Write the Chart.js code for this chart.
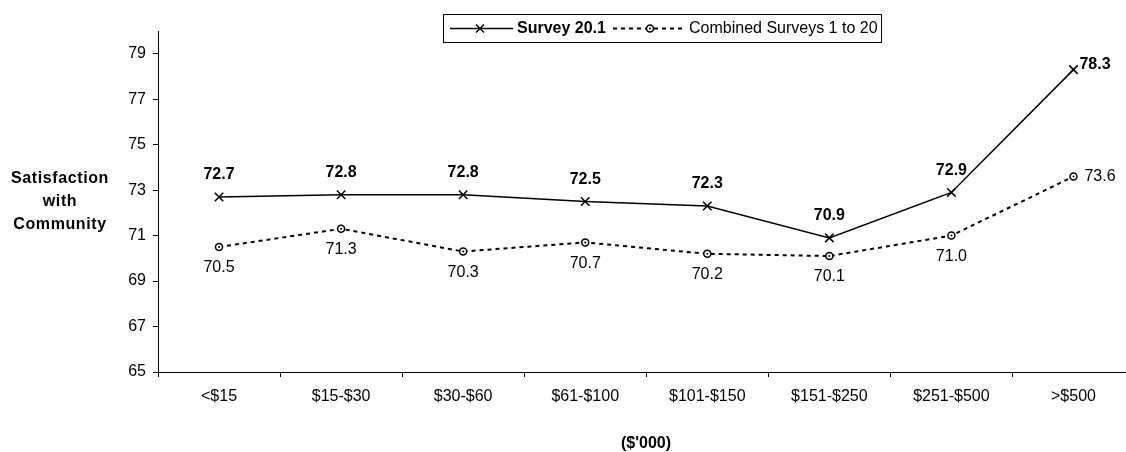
<!DOCTYPE html>
<html>
<head>
<meta charset="utf-8">
<script src="https://cdn.jsdelivr.net/npm/chart.js@4.4.0/dist/chart.umd.min.js"></script>
<style>
  html, body { margin: 0; padding: 0; background: #fff; overflow: hidden; width: 1126px; height: 452px; }
  #wrap { width: 1126px; height: 452px; overflow: hidden; position: relative; }
  #c { position: absolute; left: 0; top: 0; }
</style>
</head>
<body>
<div id="wrap"><canvas id="c" width="1142" height="452"></canvas></div>
<script>
const categories = ['<$15', '$15-$30', '$30-$60', '$61-$100', '$101-$150', '$151-$250', '$251-$500', '>$500'];
const survey201 = [72.7, 72.8, 72.8, 72.5, 72.3, 70.9, 72.9, 78.3];
const combined1to20 = [70.5, 71.3, 70.3, 70.7, 70.2, 70.1, 71.0, 73.6];
const yTicks = [65, 67, 69, 71, 73, 75, 77, 79];
const seriesNames = ['Survey 20.1', 'Combined Surveys 1 to 20'];
const yTitle = ['Satisfaction', 'with', 'Community'];
const xTitle = "($'000)";

const FONT = '"Liberation Sans", Arial, sans-serif';

const overlay = {
  id: 'overlay',
  afterDatasetsDraw(chart) {
    const ctx = chart.ctx;
    ctx.save();
    const m2 = chart.getDatasetMeta(1);
    ctx.fillStyle = '#000';
    m2.data.forEach(p => { ctx.beginPath(); ctx.arc(p.x, p.y, 1, 0, Math.PI * 2); ctx.fill(); });

    const m1 = chart.getDatasetMeta(0);
    const last = m1.data.length - 1;
    ctx.fillStyle = '#000';
    ctx.textBaseline = 'middle';
    ctx.font = 'bold 16px ' + FONT;
    m1.data.forEach((p, i) => {
      const txt = survey201[i].toFixed(1);
      if (i === last) { ctx.textAlign = 'left'; ctx.fillText(txt, p.x + 6, p.y - 5); }
      else { ctx.textAlign = 'center'; ctx.fillText(txt, p.x, p.y - 22); }
    });
    ctx.font = '16px ' + FONT;
    m2.data.forEach((p, i) => {
      const txt = combined1to20[i].toFixed(1);
      if (i === last) { ctx.textAlign = 'left'; ctx.fillText(txt, p.x + 11, p.y); }
      else { ctx.textAlign = 'center'; ctx.fillText(txt, p.x, p.y + 21); }
    });
    ctx.restore();
  },
  afterDraw(chart) {
    const ctx = chart.ctx;
    ctx.save();
    ctx.fillStyle = '#000';
    ctx.strokeStyle = '#000';
    ctx.font = 'bold 16px ' + FONT;
    ctx.textAlign = 'center';
    ctx.textBaseline = 'middle';
    try { ctx.letterSpacing = '0.6px'; } catch (e) {}
    yTitle.forEach((t, i) => ctx.fillText(t, 60, 179 + i * 23));
    try { ctx.letterSpacing = '0px'; } catch (e) {}
    ctx.fillText(xTitle, 646, 444);

    const bx = 443, by = 14, bw = 438, bh = 28;
    ctx.lineWidth = 1;
    ctx.strokeRect(bx + 0.5, by + 0.5, bw, bh);
    const cy = by + bh / 2 + 0.5;
    ctx.lineWidth = 1.5;
    ctx.setLineDash([]);
    ctx.beginPath(); ctx.moveTo(450, cy); ctx.lineTo(513, cy); ctx.stroke();
    ctx.beginPath();
    ctx.moveTo(476, cy - 4); ctx.lineTo(484, cy + 4);
    ctx.moveTo(476, cy + 4); ctx.lineTo(484, cy - 4);
    ctx.stroke();
    ctx.textAlign = 'left';
    ctx.font = 'bold 16px ' + FONT;
    ctx.fillText(seriesNames[0], 517, cy);
    ctx.lineWidth = 2;
    ctx.setLineDash([4, 4]);
    ctx.beginPath(); ctx.moveTo(613, cy); ctx.lineTo(646, cy); ctx.stroke();
    ctx.beginPath(); ctx.moveTo(654, cy); ctx.lineTo(686, cy); ctx.stroke();
    ctx.setLineDash([]);
    ctx.lineWidth = 1.5;
    ctx.fillStyle = '#fff';
    ctx.beginPath(); ctx.arc(650, cy, 3.5, 0, Math.PI * 2); ctx.fill(); ctx.stroke();
    ctx.fillStyle = '#000';
    ctx.beginPath(); ctx.arc(650, cy, 1, 0, Math.PI * 2); ctx.fill();
    ctx.font = '16px ' + FONT;
    ctx.fillText(seriesNames[1], 689, cy);
    ctx.restore();
  }
};

new Chart(document.getElementById('c'), {
  type: 'line',
  data: {
    labels: categories,
    datasets: [
      {
        label: seriesNames[0],
        data: survey201,
        borderColor: '#000',
        backgroundColor: '#000',
        borderWidth: 1.5,
        pointStyle: 'crossRot',
        pointRadius: 6,
        pointBorderWidth: 1.5,
        pointBorderColor: '#000',
        tension: 0,
        fill: false
      },
      {
        label: seriesNames[1],
        data: combined1to20,
        borderColor: '#000',
        backgroundColor: '#fff',
        borderWidth: 2,
        borderDash: [4, 4],
        pointStyle: 'circle',
        pointRadius: 3.5,
        pointBorderWidth: 1.5,
        pointBorderColor: '#000',
        pointBackgroundColor: '#fff',
        tension: 0,
        fill: false
      }
    ]
  },
  options: {
    responsive: false,
    animation: false,
    devicePixelRatio: 1,
    layout: { padding: { top: 31, left: 0, right: 0, bottom: 0 } },
    plugins: { legend: { display: false }, tooltip: { enabled: false } },
    scales: {
      x: {
        type: 'category',
        offset: true,
        grid: { offset: true, drawOnChartArea: false, drawTicks: true, tickLength: 5, color: '#000', lineWidth: 1 },
        border: { display: true, color: '#000', width: 1 },
        ticks: { color: '#000', font: { family: FONT, size: 16 }, padding: 10, maxRotation: 0, autoSkip: false },
        afterFit: s => { s.height = 80; }
      },
      y: {
        type: 'linear',
        min: 65,
        max: 80,
        afterBuildTicks: s => { s.ticks = yTicks.map(v => ({ value: v })); },
        grid: { drawOnChartArea: false, drawTicks: true, tickLength: 5, color: '#000', lineWidth: 1 },
        border: { display: true, color: '#000', width: 1 },
        ticks: { color: '#000', font: { family: FONT, size: 16 }, padding: 7 },
        afterFit: s => { s.width = 158; }
      }
    }
  },
  plugins: [overlay]
});
</script>
</body>
</html>
